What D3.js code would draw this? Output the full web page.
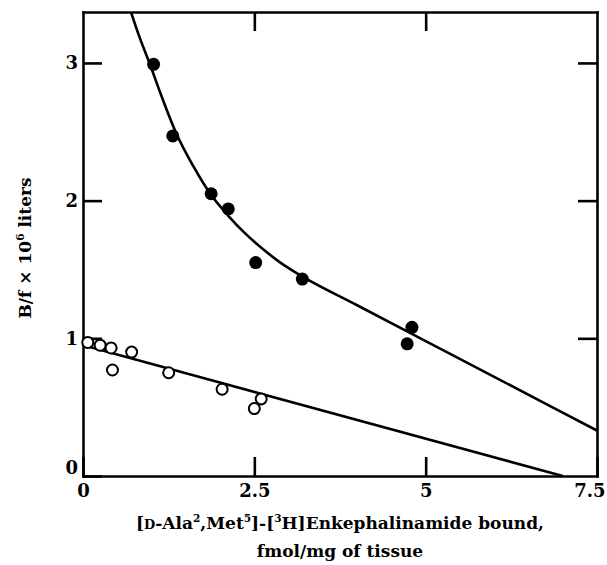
<!DOCTYPE html>
<html>
<head>
<meta charset="utf-8">
<script src="https://cdn.jsdelivr.net/npm/d3@7"></script>
<style>
  body { margin: 0; background: #fff; }
</style>
</head>
<body>
<div id="chart"></div>
<script>
// Open circles (lower series)
var openX = [0.07, 0.25, 0.41, 0.43, 0.71, 1.25, 2.03, 2.50, 2.60];
var openY = [0.97, 0.95, 0.93, 0.77, 0.90, 0.75, 0.63, 0.49, 0.56];

// Filled circles (upper series)
var filledX = [1.03, 1.31, 1.87, 2.12, 2.52, 3.20, 4.73, 4.80];
var filledY = [2.99, 2.47, 2.05, 1.94, 1.55, 1.43, 0.96, 1.08];

// Fitted curve through the filled points
var curveX = [0.70, 0.83, 0.97, 1.13, 1.36, 1.61, 1.87, 2.12, 2.37, 2.62, 2.88, 3.13, 4.0, 5.0, 6.0, 7.5];
var curveY = [3.37, 3.18, 3.00, 2.78, 2.49, 2.25, 2.04, 1.89, 1.76, 1.65, 1.55, 1.47, 1.24, 0.98, 0.72, 0.33];

// Fitted line through the open points
var lineX = [0, 7.0];
var lineY = [0.95, 0];

// Tick values
var xTicks = [0, 2.5, 5, 7.5];
var yTicks = [0, 1, 2, 3];

var FONT = "DejaVu Serif";

var margin = { top: 12, right: 10, bottom: 89, left: 83 },
  width = 607 - margin.left - margin.right,
  height = 565 - margin.top - margin.bottom;

var svgRoot = d3.select("#chart")
  .append("svg")
  .attr("width", 607)
  .attr("height", 565)
  .style("background", "#fff");

var svg = svgRoot.append("g")
  .attr("transform", "translate(" + margin.left + "," + margin.top + ")");

var x = d3.scaleLinear().domain([0, 7.5]).range([0, width]);
var y = d3.scaleLinear().domain([0, 3.37]).range([height, 0]);

function styleAxis(g) {
  g.attr("font-family", FONT).attr("font-size", 18).attr("font-weight", "bold");
  g.select(".domain").attr("stroke", "#000").attr("stroke-width", 2.6).attr("stroke-linecap", "square");
  g.selectAll(".tick line").attr("stroke", "#000").attr("stroke-width", 2.6);
  g.selectAll(".tick text").attr("fill", "#000");
}

// Left axis with labels
svg.append("g")
  .call(d3.axisLeft(y).tickValues(yTicks).tickSizeInner(-19).tickSizeOuter(0).tickPadding(5).tickFormat(d3.format("")))
  .call(styleAxis)
  .selectAll(".tick text")
  .attr("dy", function (d) { return d === 0 ? "-0.15em" : "0.32em"; });

// Right axis, ticks only
svg.append("g")
  .attr("transform", "translate(" + width + ",0)")
  .call(d3.axisRight(y).tickValues([1, 2, 3]).tickSizeInner(-19).tickSizeOuter(0).tickFormat(""))
  .call(styleAxis);

// Top axis, ticks only
svg.append("g")
  .call(d3.axisTop(x).tickValues([2.5, 5]).tickSizeInner(-19).tickSizeOuter(0).tickFormat(""))
  .call(styleAxis);

// Bottom axis with labels
svg.append("g")
  .attr("transform", "translate(0," + height + ")")
  .call(d3.axisBottom(x).tickValues(xTicks).tickSizeInner(-19).tickSizeOuter(0).tickPadding(8).tickFormat(d3.format("")))
  .call(styleAxis)
  .selectAll(".tick text")
  .filter(function (d) { return d === 7.5; })
  .attr("text-anchor", "end")
  .attr("dx", 8);

// Clip to the plot box
svg.append("clipPath").attr("id", "plotclip")
  .append("rect").attr("width", width).attr("height", height);

var plot = svg.append("g").attr("clip-path", "url(#plotclip)");

var upper = curveX.map(function (v, i) { return [v, curveY[i]]; });
var lower = lineX.map(function (v, i) { return [v, lineY[i]]; });

var lineGen = d3.line()
  .x(function (d) { return x(d[0]); })
  .y(function (d) { return y(d[1]); });

plot.append("path")
  .datum(upper)
  .attr("fill", "none")
  .attr("stroke", "#000")
  .attr("stroke-width", 2.6)
  .attr("d", lineGen.curve(d3.curveMonotoneX));

plot.append("path")
  .datum(lower)
  .attr("fill", "none")
  .attr("stroke", "#000")
  .attr("stroke-width", 2.6)
  .attr("d", lineGen.curve(d3.curveLinear));

// Points
svg.selectAll(".filled")
  .data(filledX.map(function (v, i) { return [v, filledY[i]]; }))
  .enter().append("circle")
  .attr("class", "filled")
  .attr("cx", function (d) { return x(d[0]); })
  .attr("cy", function (d) { return y(d[1]); })
  .attr("r", 6.5)
  .attr("fill", "#000");

svg.selectAll(".open")
  .data(openX.map(function (v, i) { return [v, openY[i]]; }))
  .enter().append("circle")
  .attr("class", "open")
  .attr("cx", function (d) { return x(d[0]); })
  .attr("cy", function (d) { return y(d[1]); })
  .attr("r", 5.5)
  .attr("fill", "#fff")
  .attr("stroke", "#000")
  .attr("stroke-width", 2);

// Rich text helper: parts of {t, sup, sc}
function richText(sel, parts, size) {
  var supShift = size * 0.42;
  parts.forEach(function (p) {
    var ts = sel.append("tspan").text(p.t);
    if (p.sup) {
      ts.attr("font-size", size * 0.62).attr("dy", -supShift);
    } else if (p.sc) {
      ts.attr("font-size", size * 0.76);
    }
    if (p.back) ts.attr("dy", supShift);
  });
}

function supParts(list) {
  // mark the piece after each superscript to shift back down
  for (var i = 1; i < list.length; i++) {
    if (list[i - 1].sup && !list[i].sup) list[i].back = true;
  }
  return list;
}

// X axis title, two lines
var xSize = 17;
var t1 = svgRoot.append("text")
  .attr("x", 340).attr("y", 529)
  .attr("text-anchor", "middle")
  .attr("font-family", FONT).attr("font-weight", "bold").attr("font-size", xSize)
  .attr("fill", "#000");
richText(t1, supParts([
  { t: "[" }, { t: "D", sc: true }, { t: "-Ala" }, { t: "2", sup: true },
  { t: ",Met" }, { t: "5", sup: true }, { t: "]-[" }, { t: "3", sup: true },
  { t: "H]Enkephalinamide bound," }
]), xSize);

svgRoot.append("text")
  .attr("x", 340).attr("y", 557)
  .attr("text-anchor", "middle")
  .attr("font-family", FONT).attr("font-weight", "bold").attr("font-size", xSize)
  .attr("fill", "#000")
  .text("fmol/mg of tissue");

// Y axis title
var yt = svgRoot.append("text")
  .attr("transform", "translate(31,248) rotate(-90)")
  .attr("text-anchor", "middle")
  .attr("font-family", FONT).attr("font-weight", "bold").attr("font-size", xSize)
  .attr("fill", "#000");
richText(yt, supParts([
  { t: "B/f \u00d7 10" }, { t: "6", sup: true }, { t: " liters" }
]), xSize);
</script>
</body>
</html>
